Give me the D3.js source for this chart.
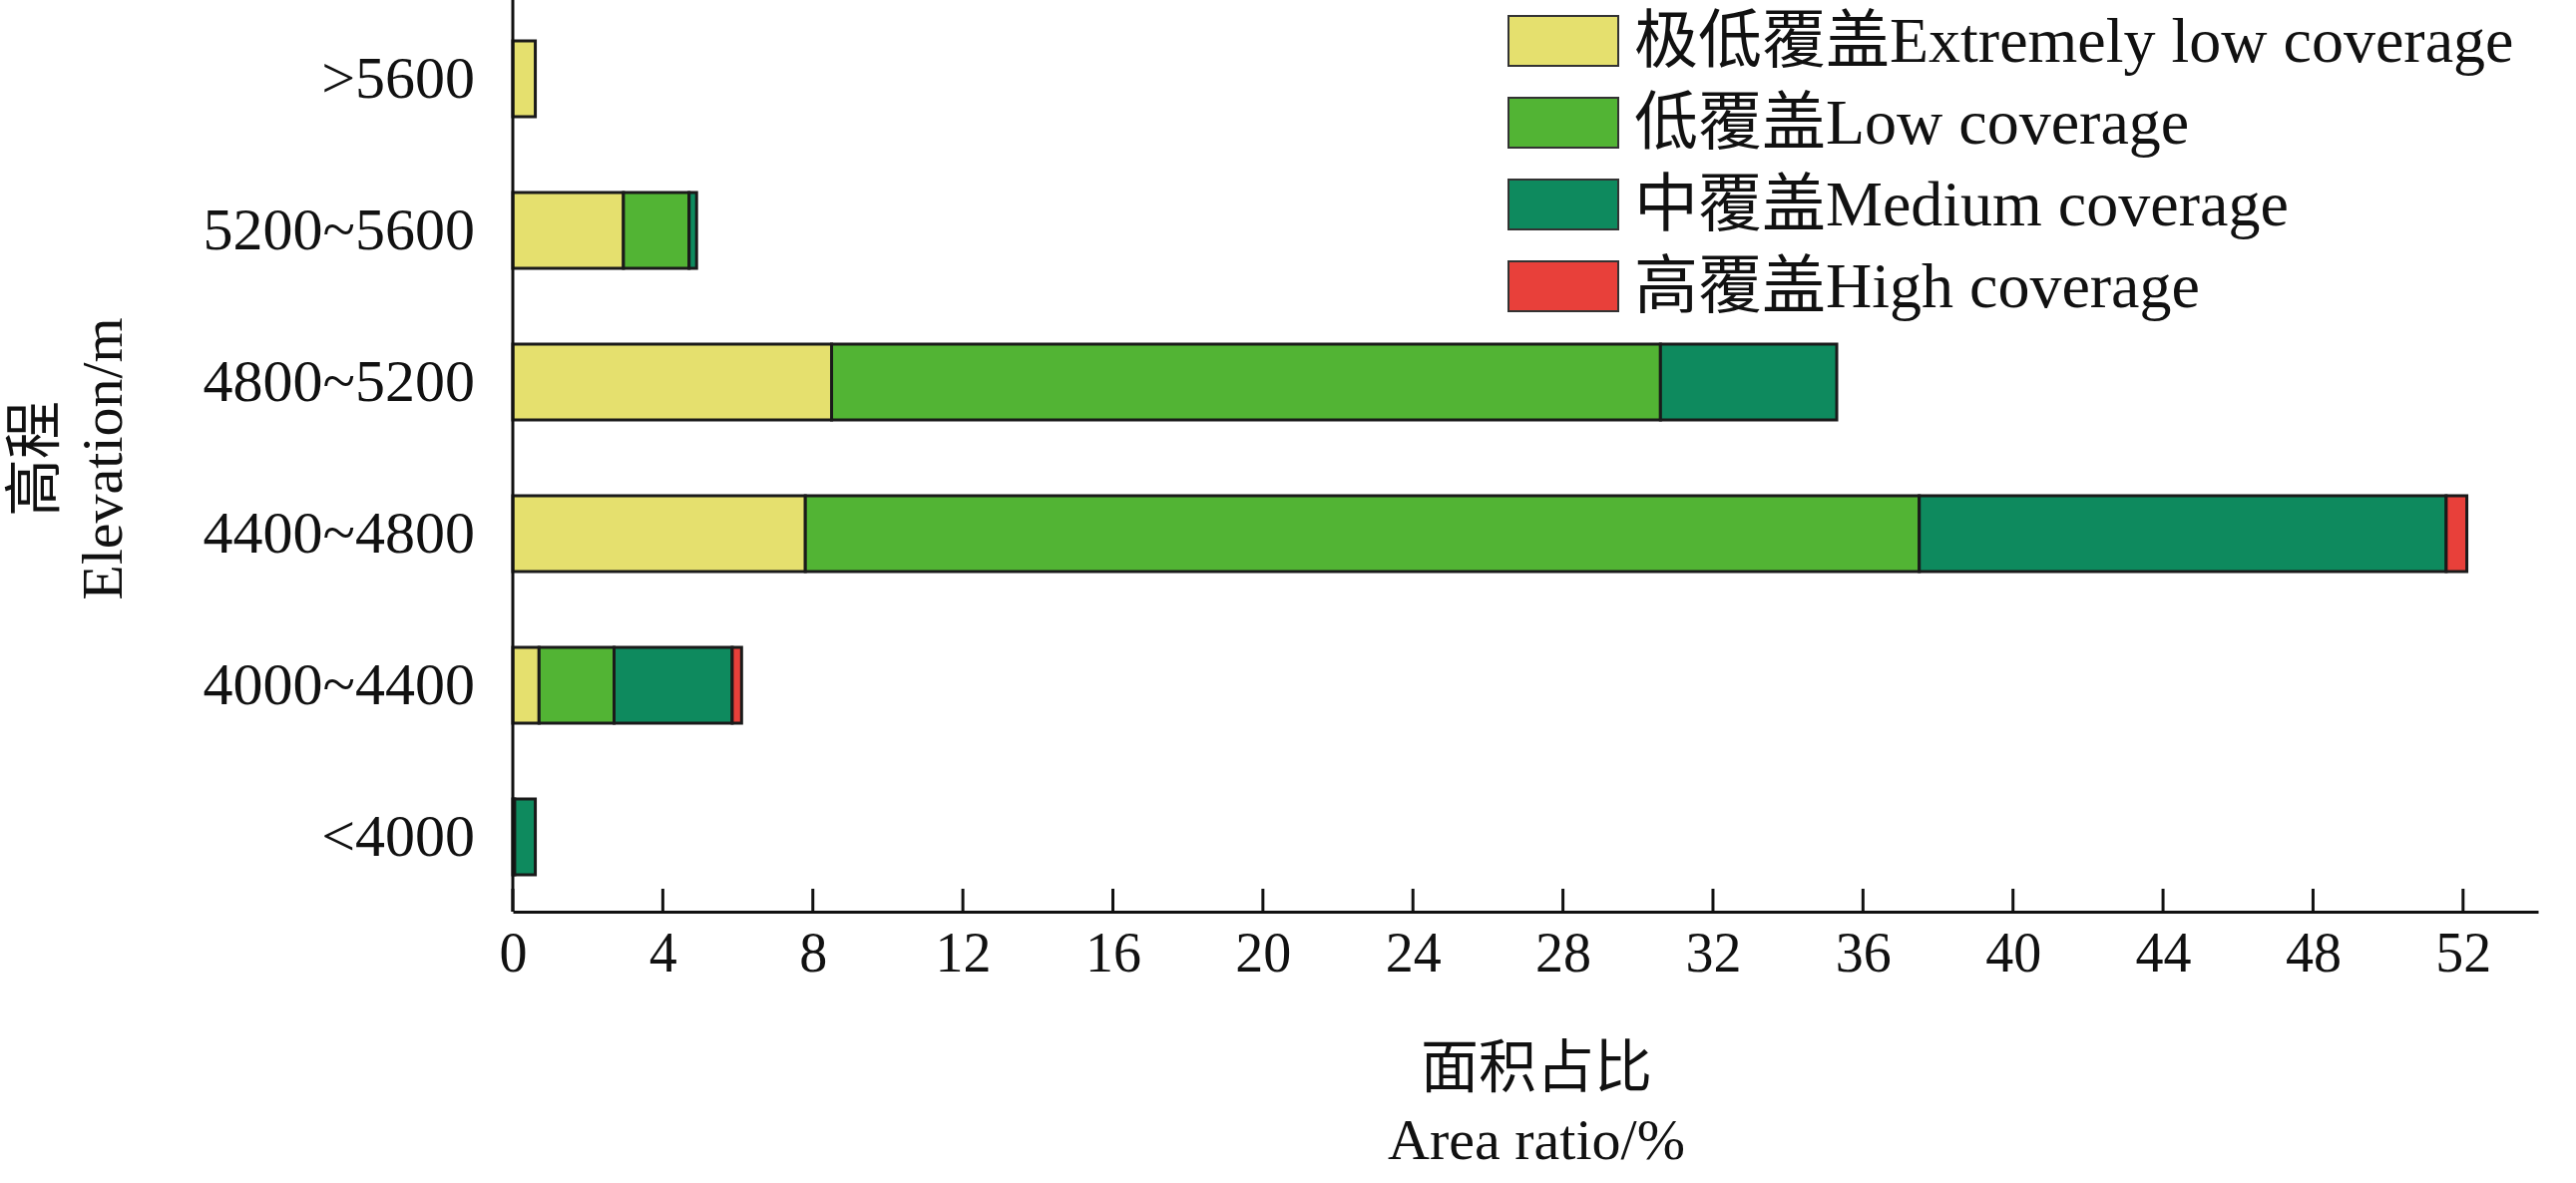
<!DOCTYPE html>
<html><head><meta charset="utf-8">
<script src="https://cdn.jsdelivr.net/npm/d3@7"></script>
<style>body{margin:0;background:#fff}svg{display:block}text{font-family:"Liberation Serif","Noto Sans CJK SC",serif;fill:#111}</style>
</head><body><svg id="c" width="2582" height="1186"></svg>
<script>
const categories = [">5600","5200~5600","4800~5200","4400~4800","4000~4400","<4000"];
const seriesNames = ["极低覆盖Extremely low coverage","低覆盖Low coverage","中覆盖Medium coverage","高覆盖High coverage"];
const extremelyLow = [0.6, 2.95, 8.5, 7.8, 0.7, 0];
const low = [0, 1.75, 22.1, 29.7, 2.0, 0.05];
const medium = [0, 0.2, 4.7, 14.05, 3.15, 0.55];
const high = [0, 0, 0, 0.55, 0.25, 0];
const xTicks = [0,4,8,12,16,20,24,28,32,36,40,44,48,52];
const colors = ["#e5e06e","#52b434","#0e8a5e","#e8403a"];

const svg = d3.select("#c");
const x = d3.scaleLinear().domain([0,54]).range([514,2544]);
const y = d3.scaleBand().domain(categories).range([3,915]).paddingInner(0.5).paddingOuter(0.25);
const series = [extremelyLow, low, medium, high];
const rows = categories.map((c,i)=>{const o={cat:c}; seriesNames.forEach((s,j)=>o[s]=series[j][i]); return o;});
const stack = d3.stack().keys(seriesNames)(rows);
stack.forEach((layer,j)=>{
  svg.append("g").selectAll("rect").data(layer).join("rect")
    .attr("x",d=>x(d[0])).attr("y",d=>y(d.data.cat))
    .attr("width",d=>Math.max(0,x(d[1])-x(d[0]))).attr("height",y.bandwidth())
    .attr("fill",colors[j]).attr("stroke",d=>d[1]-d[0]>0?"#1a1a1a":"none").attr("stroke-width",3);
});
const xa = svg.append("g").attr("transform","translate(0,914)")
  .call(d3.axisBottom(x).tickValues(xTicks).tickSize(0).tickPadding(20));
xa.attr("font-size",null);
xa.select(".domain").attr("stroke","#111").attr("stroke-width",3);
xa.selectAll("text").style("font-size","56px").style("font-family","Liberation Serif");
svg.append("g").selectAll("line").data(xTicks).join("line")
  .attr("x1",d=>x(d)).attr("x2",d=>x(d)).attr("y1",914).attr("y2",891).attr("stroke","#111").attr("stroke-width",3);
const ya = svg.append("g").attr("transform","translate(514,0)")
  .call(d3.axisLeft(y).tickSize(0).tickPadding(38));
ya.select(".domain").attr("stroke","#111").attr("stroke-width",3).attr("d","M0,0V914");
ya.selectAll("text").style("font-size","60px").style("font-family","Liberation Serif");
svg.append("text").attr("x",1540).attr("y",1090).attr("text-anchor","middle").style("font-size","58px").text("面积占比");
svg.append("text").attr("x",1540).attr("y",1162).attr("text-anchor","middle").style("font-size","58px").text("Area ratio/%");
const yt = svg.append("g").attr("transform","translate(0,460) rotate(-90)");
yt.append("text").attr("x",0).attr("y",54).attr("text-anchor","middle").style("font-size","58px").text("高程");
yt.append("text").attr("x",0).attr("y",122).attr("text-anchor","middle").style("font-size","58px").text("Elevation/m");
const lg = svg.append("g").selectAll("g").data(seriesNames).join("g")
  .attr("transform",(d,i)=>`translate(1512,${16+i*82})`);
lg.append("rect").attr("width",110).attr("height",50).attr("fill",(d,i)=>colors[i]).attr("stroke","#333").attr("stroke-width",2);
lg.append("text").attr("x",126).attr("y",46).style("font-size","64px").text(d=>d);
</script></body></html>
